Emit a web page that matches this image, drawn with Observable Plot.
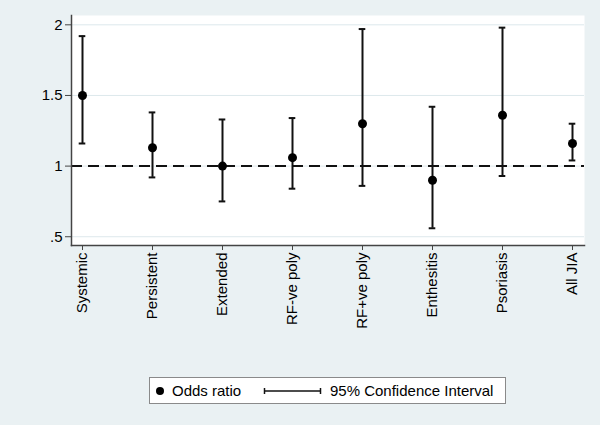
<!DOCTYPE html>
<html>
<head>
<meta charset="utf-8">
<script src="https://cdn.jsdelivr.net/npm/d3@7"></script>
<script src="https://cdn.jsdelivr.net/npm/@observablehq/plot@0.6"></script>
<style>
  html, body { margin: 0; padding: 0; background: #eaf1f3; }
  #wrap { position: relative; width: 600px; height: 425px; background: #eaf1f3; font-family: "Liberation Sans", Arial, sans-serif; }
  #legend { position: absolute; left: 149px; top: 377px; width: 355px; height: 25px; background: #fff; border: 1px solid #8a8a8a; }
  #legend svg { position: absolute; left: 0; top: 0; }
</style>
</head>
<body>
<div id="wrap">
  <div id="chart"></div>
  <div id="legend"></div>
</div>
<script>
const categories = ["Systemic", "Persistent", "Extended", "RF-ve poly", "RF+ve poly", "Enthesitis", "Psoriasis", "All JIA"];
const oddsRatio = [1.50, 1.13, 1.00, 1.06, 1.30, 0.90, 1.36, 1.16];
const ciLower   = [1.16, 0.92, 0.75, 0.84, 0.86, 0.56, 0.93, 1.04];
const ciUpper   = [1.92, 1.38, 1.33, 1.34, 1.97, 1.42, 1.98, 1.30];
const yTicks = [0.5, 1, 1.5, 2];
const yTickLabels = [".5", "1", "1.5", "2"];
const referenceLine = [1];
const legendLabels = ["Odds ratio", "95% Confidence Interval"];

const data = categories.map((c, i) => ({cat: c, or: oddsRatio[i], lo: ciLower[i], hi: ciUpper[i]}));

const chart = Plot.plot({
  width: 600,
  height: 360,
  marginTop: 15,
  marginBottom: 115,
  marginLeft: 71,
  marginRight: 16,
  style: {background: "transparent", fontFamily: "'Liberation Sans', Arial, sans-serif", fontSize: "15px", color: "#000"},
  x: {type: "band", domain: categories, paddingInner: 0.74, paddingOuter: 0, align: 0.5},
  y: {domain: [0.438, 2.066]},
  marks: [
    Plot.frame({fill: "white", stroke: null}),
    Plot.ruleY(yTicks, {stroke: "#dde8ec", strokeWidth: 1}),
    Plot.ruleY(referenceLine, {stroke: "#111", strokeWidth: 2, strokeDasharray: "11,6"}),
    Plot.ruleX(data, {x: "cat", y1: "lo", y2: "hi", stroke: "#111", strokeWidth: 2}),
    Plot.tickY(data, {x: "cat", y: "lo", insetLeft: 5.7, insetRight: 5.7, stroke: "#111", strokeWidth: 2}),
    Plot.tickY(data, {x: "cat", y: "hi", insetLeft: 5.7, insetRight: 5.7, stroke: "#111", strokeWidth: 2}),
    Plot.dot(data, {x: "cat", y: "or", r: 4.5, fill: "#000", stroke: null}),
    Plot.frame({anchor: "left", stroke: "#444", strokeWidth: 1.5}),
    Plot.frame({anchor: "bottom", stroke: "#444", strokeWidth: 1.5}),
    Plot.axisY({ticks: yTicks, tickFormat: d => yTickLabels[yTicks.indexOf(d)], tickSize: 6, tickPadding: 3, label: null, stroke: "#444", fontSize: 15, fill: "#000"}),
    Plot.axisX({tickRotate: -90, tickSize: 5, tickPadding: 2, label: null, stroke: "#444", fontSize: 15, fill: "#000"})
  ]
});
document.getElementById("chart").appendChild(chart);

// Legend
const lg = d3.select("#legend").append("svg").attr("width", 355).attr("height", 25)
  .style("font-family", "'Liberation Sans', Arial, sans-serif").style("font-size", "15px");
lg.append("circle").attr("cx", 10).attr("cy", 13).attr("r", 4).attr("fill", "#000");
lg.append("text").attr("x", 22).attr("y", 18).text(legendLabels[0]);
lg.append("line").attr("x1", 114).attr("x2", 171).attr("y1", 13).attr("y2", 13).attr("stroke", "#111").attr("stroke-width", 1.5);
lg.append("line").attr("x1", 114.5).attr("x2", 114.5).attr("y1", 10).attr("y2", 16).attr("stroke", "#111").attr("stroke-width", 1.5);
lg.append("line").attr("x1", 170.5).attr("x2", 170.5).attr("y1", 10).attr("y2", 16).attr("stroke", "#111").attr("stroke-width", 1.5);
lg.append("text").attr("x", 180).attr("y", 18).text(legendLabels[1]);
</script>
</body>
</html>
